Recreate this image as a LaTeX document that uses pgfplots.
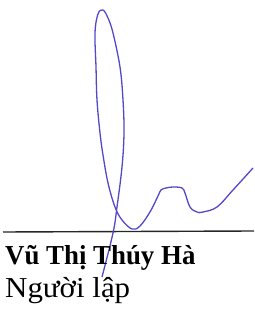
\documentclass[border=0pt]{standalone}
\usepackage{pgfplots}
\pgfplotsset{compat=1.18}
\usepackage{fontspec}
\setmainfont{Liberation Serif}
\definecolor{sig}{RGB}{84,72,200}
\begin{document}
\begin{tikzpicture}[x=1bp,y=1bp]
\begin{axis}[
  x=1bp, y=1bp,
  xmin=0, xmax=254, ymin=0, ymax=309,
  hide axis, clip=false,
  anchor=origin, at={(0,0)},
]
\path (axis cs:0,0) rectangle (axis cs:254,309);
\addplot[black!85, line width=1.4bp] coordinates {(3,77) (254,78)};
\addplot[sig, line width=1.3bp, smooth, tension=0.6] coordinates {
(102,32) (113,76) (117,102) (122,142) (124,176) (123,209) (120,242) (113,276)
(108,291) (103,299) (98,295) (95,276) (96,242) (97,209) (100,176) (103,154)
(108,126) (115,102) (122,89) (132,80) (140,83) (150,97) (158,113) (161,119)
(166,121) (173,122) (182,121) (185,116) (190,102) (197,97) (203,97) (217,102)
(233,119) (253,141)};
\node[anchor=base west, inner sep=0pt, font=\fontsize{27.5}{32}\selectfont\bfseries, xscale=0.98] at (axis cs:5,45) {Vũ Thị Thúy Hà};
\node[anchor=base west, inner sep=0pt, font=\fontsize{29}{34}\selectfont, xscale=1.07] at (axis cs:5,11.5) {Người lập};
\end{axis}
\end{tikzpicture}
\end{document}
